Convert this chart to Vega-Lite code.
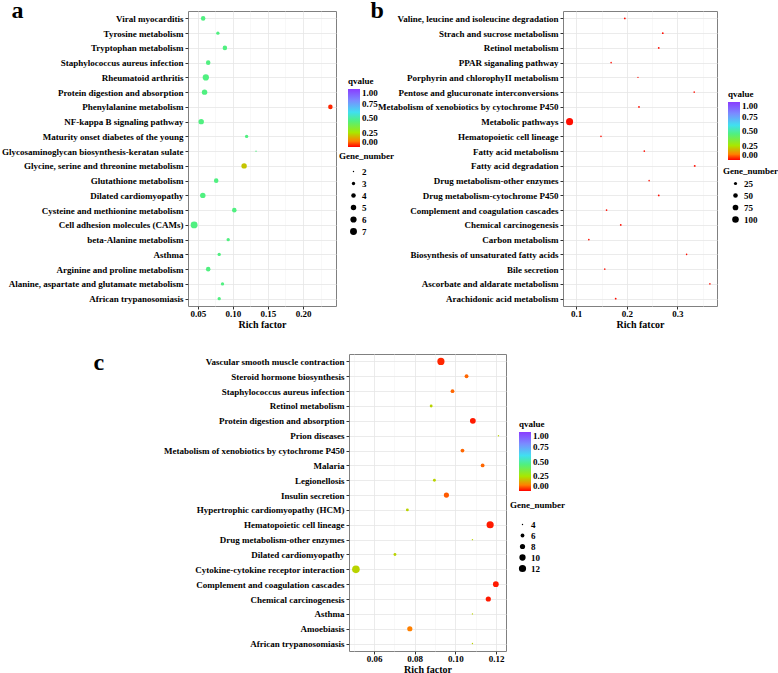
{
  "$schema": "https://vega.github.io/schema/vega-lite/v6.json",
  "padding": {"left": 0, "top": -2, "right": 0, "bottom": 0},
  "background": "white",
  "datasets": {
    "pa": [
      {"term": "Viral myocarditis", "rich": 0.0576, "q": 0.45, "genes": 4},
      {"term": "Tyrosine metabolism", "rich": 0.0786, "q": 0.45, "genes": 3},
      {"term": "Tryptophan metabolism", "rich": 0.0886, "q": 0.45, "genes": 4},
      {"term": "Staphylococcus aureus infection", "rich": 0.0648, "q": 0.45, "genes": 4},
      {"term": "Rheumatoid arthritis", "rich": 0.0614, "q": 0.45, "genes": 6},
      {"term": "Protein digestion and absorption", "rich": 0.0596, "q": 0.45, "genes": 5},
      {"term": "Phenylalanine metabolism", "rich": 0.239, "q": 0.03, "genes": 4},
      {"term": "NF-kappa B signaling pathway", "rich": 0.0548, "q": 0.45, "genes": 5},
      {"term": "Maturity onset diabetes of the young", "rich": 0.1196, "q": 0.45, "genes": 3},
      {"term": "Glycosaminoglycan biosynthesis-keratan sulate", "rich": 0.133, "q": 0.45, "genes": 2},
      {"term": "Glycine, serine and threonine metabolism", "rich": 0.116, "q": 0.2, "genes": 5},
      {"term": "Glutathione metabolism", "rich": 0.0762, "q": 0.45, "genes": 4},
      {"term": "Dilated cardiomyopathy", "rich": 0.0571, "q": 0.45, "genes": 5},
      {"term": "Cysteine and methionine metabolism", "rich": 0.102, "q": 0.45, "genes": 4},
      {"term": "Cell adhesion molecules (CAMs)", "rich": 0.0447, "q": 0.45, "genes": 7},
      {"term": "beta-Alanine metabolism", "rich": 0.0933, "q": 0.45, "genes": 3},
      {"term": "Asthma", "rich": 0.0805, "q": 0.45, "genes": 3},
      {"term": "Arginine and proline metabolism", "rich": 0.0648, "q": 0.45, "genes": 4},
      {"term": "Alanine, aspartate and glutamate metabolism", "rich": 0.0852, "q": 0.45, "genes": 3},
      {"term": "African trypanosomiasis", "rich": 0.0805, "q": 0.45, "genes": 3}
    ],
    "pb": [
      {"term": "Valine, leucine and isoleucine degradation", "rich": 0.196, "q": 0.01, "genes": 10},
      {"term": "Strach and sucrose metabolism", "rich": 0.271, "q": 0.01, "genes": 10},
      {"term": "Retinol metabolism", "rich": 0.263, "q": 0.01, "genes": 10},
      {"term": "PPAR siganaling pathway", "rich": 0.169, "q": 0.01, "genes": 8},
      {"term": "Porphyrin and chlorophyII metabolism", "rich": 0.222, "q": 0.01, "genes": 6},
      {"term": "Pentose and glucuronate interconversions", "rich": 0.333, "q": 0.01, "genes": 8},
      {"term": "Metabolism of xenobiotics by cytochrome P450", "rich": 0.224, "q": 0.01, "genes": 10},
      {"term": "Metabolic pathways", "rich": 0.087, "q": 0.01, "genes": 115},
      {"term": "Hematopoietic cell lineage", "rich": 0.149, "q": 0.01, "genes": 8},
      {"term": "Fatty acid metabolism", "rich": 0.2345, "q": 0.01, "genes": 9},
      {"term": "Fatty acid degradation", "rich": 0.334, "q": 0.01, "genes": 11},
      {"term": "Drug metabolism-other enzymes", "rich": 0.244, "q": 0.01, "genes": 8},
      {"term": "Drug metabolism-cytochrome P450", "rich": 0.263, "q": 0.01, "genes": 10},
      {"term": "Complement and coagulation cascades", "rich": 0.16, "q": 0.01, "genes": 9},
      {"term": "Chemical carcinogenesis", "rich": 0.188, "q": 0.01, "genes": 10},
      {"term": "Carbon metabolism", "rich": 0.125, "q": 0.01, "genes": 9},
      {"term": "Biosynthesis of unsaturated fatty acids", "rich": 0.318, "q": 0.01, "genes": 8},
      {"term": "Bile secretion", "rich": 0.1565, "q": 0.01, "genes": 8},
      {"term": "Ascorbate and aldarate metabolism", "rich": 0.364, "q": 0.01, "genes": 8},
      {"term": "Arachidonic acid metabolism", "rich": 0.178, "q": 0.01, "genes": 10}
    ],
    "pc": [
      {"term": "Vascular smooth muscle contraction", "rich": 0.0929, "q": 0.03, "genes": 12},
      {"term": "Steroid hormone biosynthesis", "rich": 0.1055, "q": 0.08, "genes": 6},
      {"term": "Staphylococcus aureus infection", "rich": 0.0986, "q": 0.08, "genes": 6},
      {"term": "Retinol metabolism", "rich": 0.0881, "q": 0.22, "genes": 5},
      {"term": "Protein digestion and absorption", "rich": 0.1086, "q": 0.02, "genes": 9},
      {"term": "Prion diseases", "rich": 0.1212, "q": 0.22, "genes": 4},
      {"term": "Metabolism of xenobiotics by cytochrome P450", "rich": 0.1035, "q": 0.08, "genes": 6},
      {"term": "Malaria", "rich": 0.1134, "q": 0.08, "genes": 6},
      {"term": "Legionellosis", "rich": 0.0897, "q": 0.22, "genes": 5},
      {"term": "Insulin secretion", "rich": 0.0956, "q": 0.07, "genes": 8},
      {"term": "Hypertrophic cardiomyopathy (HCM)", "rich": 0.0764, "q": 0.22, "genes": 5},
      {"term": "Hematopoietic cell lineage", "rich": 0.1171, "q": 0.02, "genes": 12},
      {"term": "Drug metabolism-other enzymes", "rich": 0.1084, "q": 0.22, "genes": 4},
      {"term": "Dilated cardiomyopathy", "rich": 0.0703, "q": 0.22, "genes": 5},
      {"term": "Cytokine-cytokine receptor interaction", "rich": 0.0511, "q": 0.22, "genes": 13},
      {"term": "Complement and coagulation cascades", "rich": 0.1199, "q": 0.02, "genes": 9},
      {"term": "Chemical carcinogenesis", "rich": 0.1162, "q": 0.02, "genes": 8},
      {"term": "Asthma", "rich": 0.1084, "q": 0.22, "genes": 4},
      {"term": "Amoebiasis", "rich": 0.0776, "q": 0.1, "genes": 8},
      {"term": "African trypanosomiasis", "rich": 0.1084, "q": 0.22, "genes": 4}
    ]
  },
  "vconcat": [
    {
      "hconcat": [
        {
          "data": {"name": "pa"},
          "width": 148,
          "height": 295,
          "title": {"text": "a", "dx": 10, "dy": 16},
          "layer": [
            {
              "mark": {"type": "point", "opacity": 0},
              "encoding": {
                "x": {"field": "rich", "type": "quantitative", "scale": {"domain": [0.036, 0.247], "nice": false, "zero": false},
                  "axis": {"orient": "top", "values": [0.075, 0.125, 0.175, 0.225], "grid": true, "gridColor": "#f3f3f3", "gridWidth": 0.6, "labels": false, "ticks": false, "domain": false, "title": null}},
                "y": {"field": "term", "type": "nominal", "sort": ["Viral myocarditis","Tyrosine metabolism","Tryptophan metabolism","Staphylococcus aureus infection","Rheumatoid arthritis","Protein digestion and absorption","Phenylalanine metabolism","NF-kappa B signaling pathway","Maturity onset diabetes of the young","Glycosaminoglycan biosynthesis-keratan sulate","Glycine, serine and threonine metabolism","Glutathione metabolism","Dilated cardiomyopathy","Cysteine and methionine metabolism","Cell adhesion molecules (CAMs)","beta-Alanine metabolism","Asthma","Arginine and proline metabolism","Alanine, aspartate and glutamate metabolism","African trypanosomiasis"], "axis": {"title": null, "grid": true}}
              }
            },
            {
              "mark": {"type": "circle", "opacity": 1},
              "encoding": {
                "x": {"field": "rich", "type": "quantitative", "axis": {"values": [0.05, 0.1, 0.15, 0.2], "format": ".2f", "title": "Rich factor", "grid": true}},
                "y": {"field": "term", "type": "nominal", "sort": ["Viral myocarditis","Tyrosine metabolism","Tryptophan metabolism","Staphylococcus aureus infection","Rheumatoid arthritis","Protein digestion and absorption","Phenylalanine metabolism","NF-kappa B signaling pathway","Maturity onset diabetes of the young","Glycosaminoglycan biosynthesis-keratan sulate","Glycine, serine and threonine metabolism","Glutathione metabolism","Dilated cardiomyopathy","Cysteine and methionine metabolism","Cell adhesion molecules (CAMs)","beta-Alanine metabolism","Asthma","Arginine and proline metabolism","Alanine, aspartate and glutamate metabolism","African trypanosomiasis"], "axis": {"title": null, "grid": true}},
                "color": {"field": "q", "type": "quantitative",
                  "scale": {"type": "linear", "domain": [0, 0.1, 0.25, 0.45, 0.6, 0.8, 1], "range": ["#ff0000", "#ff8000", "#a8e800", "#50f080", "#40e0f0", "#7a8cff", "#8a3cff"], "interpolate": "rgb"},
                  "legend": {"title": "qvalue", "orient": "none", "legendX": 160, "legendY": 66, "direction": "vertical", "gradientLength": 58, "gradientThickness": 12, "values": [0, 0.25, 0.5, 0.75, 1], "format": ".2f", "labelBaseline": "middle", "encode": {"title": {"update": {"dx": {"value": -9}}}}}},
                "size": {"field": "genes", "type": "quantitative",
                  "scale": {"type": "linear", "domain": [2, 7], "range": [2, 48], "zero": false},
                  "legend": {"title": "Gene_number", "orient": "none", "legendX": 151, "legendY": 141, "values": [2, 3, 4, 5, 6, 7], "symbolFillColor": "black", "symbolStrokeWidth": 0, "symbolOpacity": 1, "symbolOffset": 10, "titlePadding": 6}}
              }
            }
          ],
          "resolve": {"axis": {"x": "independent"}}
        },
        {
          "data": {"name": "pb"},
          "width": 154,
          "height": 295,
          "title": {"text": "b", "dx": -7, "dy": 16},
          "layer": [
            {
              "mark": {"type": "point", "opacity": 0},
              "encoding": {
                "x": {"field": "rich", "type": "quantitative", "scale": {"domain": [0.074, 0.378], "nice": false, "zero": false},
                  "axis": {"orient": "top", "values": [0.15, 0.25, 0.35], "grid": true, "gridColor": "#f3f3f3", "gridWidth": 0.6, "labels": false, "ticks": false, "domain": false, "title": null}},
                "y": {"field": "term", "type": "nominal", "sort": ["Valine, leucine and isoleucine degradation","Strach and sucrose metabolism","Retinol metabolism","PPAR siganaling pathway","Porphyrin and chlorophyII metabolism","Pentose and glucuronate interconversions","Metabolism of xenobiotics by cytochrome P450","Metabolic pathways","Hematopoietic cell lineage","Fatty acid metabolism","Fatty acid degradation","Drug metabolism-other enzymes","Drug metabolism-cytochrome P450","Complement and coagulation cascades","Chemical carcinogenesis","Carbon metabolism","Biosynthesis of unsaturated fatty acids","Bile secretion","Ascorbate and aldarate metabolism","Arachidonic acid metabolism"], "axis": {"title": null, "grid": true}}
              }
            },
            {
              "mark": {"type": "circle", "opacity": 1},
              "encoding": {
                "x": {"field": "rich", "type": "quantitative", "axis": {"values": [0.1, 0.2, 0.3], "format": ".1f", "title": "Rich fatcor", "grid": true}},
                "y": {"field": "term", "type": "nominal", "sort": ["Valine, leucine and isoleucine degradation","Strach and sucrose metabolism","Retinol metabolism","PPAR siganaling pathway","Porphyrin and chlorophyII metabolism","Pentose and glucuronate interconversions","Metabolism of xenobiotics by cytochrome P450","Metabolic pathways","Hematopoietic cell lineage","Fatty acid metabolism","Fatty acid degradation","Drug metabolism-other enzymes","Drug metabolism-cytochrome P450","Complement and coagulation cascades","Chemical carcinogenesis","Carbon metabolism","Biosynthesis of unsaturated fatty acids","Bile secretion","Ascorbate and aldarate metabolism","Arachidonic acid metabolism"], "axis": {"title": null, "grid": true}},
                "color": {"field": "q", "type": "quantitative",
                  "scale": {"type": "linear", "domain": [0, 0.1, 0.25, 0.45, 0.6, 0.8, 1], "range": ["#ff0000", "#ff8000", "#a8e800", "#50f080", "#40e0f0", "#7a8cff", "#8a3cff"], "interpolate": "rgb"},
                  "legend": {"title": "qvalue", "orient": "none", "legendX": 165, "legendY": 79, "direction": "vertical", "gradientLength": 58, "gradientThickness": 12, "values": [0, 0.25, 0.5, 0.75, 1], "format": ".2f", "labelBaseline": "middle", "encode": {"title": {"update": {"dx": {"value": -3}}}}}},
                "size": {"field": "genes", "type": "quantitative",
                  "scale": {"type": "linear", "domain": [5, 115], "range": [1, 50], "zero": false},
                  "legend": {"title": "Gene_number", "orient": "none", "legendX": 160, "legendY": 156, "values": [25, 50, 75, 100], "symbolFillColor": "black", "symbolStrokeWidth": 0, "symbolOpacity": 1, "symbolOffset": 8, "titlePadding": 3}}
              }
            }
          ],
          "resolve": {"axis": {"x": "independent"}}
        }
      ],
      "spacing": -26,
      "resolve": {"scale": {"color": "independent", "size": "independent"}, "legend": {"color": "independent", "size": "independent"}}
    },
    {
      "hconcat": [
        {
          "data": {"values": [{"k": 1}]},
          "width": 2,
          "height": 10,
          "view": {"stroke": null},
          "mark": {"type": "point", "opacity": 0},
          "encoding": {}
        },
        {
          "data": {"name": "pc"},
          "width": 157,
          "height": 297,
          "title": {"text": "c", "dx": -70, "dy": 25},
          "layer": [
            {
              "mark": {"type": "point", "opacity": 0},
              "encoding": {
                "x": {"field": "rich", "type": "quantitative", "scale": {"domain": [0.0477, 0.1249], "nice": false, "zero": false},
                  "axis": {"orient": "top", "values": [0.05, 0.07, 0.09, 0.11], "grid": true, "gridColor": "#f3f3f3", "gridWidth": 0.6, "labels": false, "ticks": false, "domain": false, "title": null}},
                "y": {"field": "term", "type": "nominal", "sort": ["Vascular smooth muscle contraction","Steroid hormone biosynthesis","Staphylococcus aureus infection","Retinol metabolism","Protein digestion and absorption","Prion diseases","Metabolism of xenobiotics by cytochrome P450","Malaria","Legionellosis","Insulin secretion","Hypertrophic cardiomyopathy (HCM)","Hematopoietic cell lineage","Drug metabolism-other enzymes","Dilated cardiomyopathy","Cytokine-cytokine receptor interaction","Complement and coagulation cascades","Chemical carcinogenesis","Asthma","Amoebiasis","African trypanosomiasis"], "axis": {"title": null, "grid": true}}
              }
            },
            {
              "mark": {"type": "circle", "opacity": 1},
              "encoding": {
                "x": {"field": "rich", "type": "quantitative", "axis": {"values": [0.06, 0.08, 0.1, 0.12], "format": ".2f", "title": "Rich factor", "grid": true}},
                "y": {"field": "term", "type": "nominal", "sort": ["Vascular smooth muscle contraction","Steroid hormone biosynthesis","Staphylococcus aureus infection","Retinol metabolism","Protein digestion and absorption","Prion diseases","Metabolism of xenobiotics by cytochrome P450","Malaria","Legionellosis","Insulin secretion","Hypertrophic cardiomyopathy (HCM)","Hematopoietic cell lineage","Drug metabolism-other enzymes","Dilated cardiomyopathy","Cytokine-cytokine receptor interaction","Complement and coagulation cascades","Chemical carcinogenesis","Asthma","Amoebiasis","African trypanosomiasis"], "axis": {"title": null, "grid": true}},
                "color": {"field": "q", "type": "quantitative",
                  "scale": {"type": "linear", "domain": [0, 0.1, 0.25, 0.45, 0.6, 0.8, 1], "range": ["#ff0000", "#ff8000", "#a8e800", "#50f080", "#40e0f0", "#7a8cff", "#8a3cff"], "interpolate": "rgb"},
                  "legend": {"title": "qvalue", "orient": "none", "legendX": 170, "legendY": 66, "direction": "vertical", "gradientLength": 59, "gradientThickness": 12, "values": [0, 0.25, 0.5, 0.75, 1], "format": ".2f", "labelBaseline": "middle", "encode": {"title": {"update": {"dx": {"value": -3}}}}}},
                "size": {"field": "genes", "type": "quantitative",
                  "scale": {"type": "linear", "domain": [4, 13], "range": [2, 58], "zero": false},
                  "legend": {"title": "Gene_number", "orient": "none", "legendX": 161, "legendY": 147, "values": [4, 6, 8, 10, 12], "symbolFillColor": "black", "symbolStrokeWidth": 0, "symbolOpacity": 1, "symbolOffset": 8, "titlePadding": 10, "rowPadding": 1}}
              }
            }
          ],
          "resolve": {"axis": {"x": "independent"}}
        }
      ],
      "spacing": -100,
      "resolve": {"scale": {"color": "independent", "size": "independent"}, "legend": {"color": "independent", "size": "independent"}}
    }
  ],
  "spacing": 20,
  "resolve": {"scale": {"color": "independent", "size": "independent"}, "legend": {"color": "independent", "size": "independent"}},
  "config": {
    "font": "Liberation Serif",
    "view": {"stroke": "#808080", "strokeWidth": 1},
    "axis": {"labelFont": "Liberation Serif", "labelFontSize": 9, "labelFontWeight": "bold", "labelColor": "#000000", "titleFont": "Liberation Serif", "titleFontSize": 10, "titleFontWeight": "bold", "titleColor": "#000000", "tickColor": "#333333", "tickSize": 3, "domain": false, "gridColor": "#e6e6e6", "gridWidth": 0.8, "labelPadding": 2, "titlePadding": 2, "labelLimit": 400},
    "axisX": {"labelPadding": 0, "titlePadding": 1},
    "legend": {"titleFont": "Liberation Serif", "titleFontSize": 9, "titleFontWeight": "bold", "titleColor": "#000000", "labelFont": "Liberation Serif", "labelFontSize": 9, "labelFontWeight": "bold", "labelColor": "#000000", "padding": 0, "titlePadding": 3},
    "title": {"font": "Liberation Serif", "fontSize": 24, "fontWeight": "bold", "color": "#000000", "anchor": "start", "frame": "bounds", "offset": 0, "baseline": "alphabetic"}
  }
}
